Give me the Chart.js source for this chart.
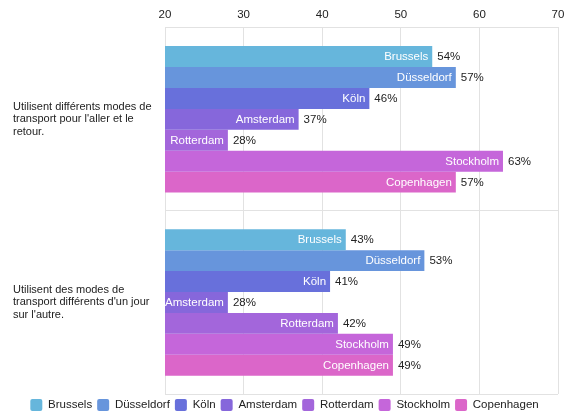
<!DOCTYPE html>
<html>
<head>
<meta charset="utf-8">
<script src="https://cdn.jsdelivr.net/npm/chart.js@4"></script>
<style>
  body { margin: 0; background: #fff; }
</style>
</head>
<body>
<canvas id="graphique" width="569" height="414"></canvas>
<script>
// Données
const categories = [
  ['Utilisent différents modes de', "transport pour l'aller et le", 'retour.'],
  ['Utilisent des modes de', "transport différents d'un jour", "sur l'autre."]
];
const villes = ['Brussels', 'Düsseldorf', 'Köln', 'Amsterdam', 'Rotterdam', 'Stockholm', 'Copenhagen'];
const allerRetour = [54, 57, 46, 37, 28, 63, 57];
const jourAJour = [43, 53, 41, 28, 42, 49, 49];
const graduations = [20, 30, 40, 50, 60, 70];

const couleurs = ['#66b6dc', '#6795dc', '#6870db', '#8667db', '#a366db', '#c566da', '#db66c9'];

const police = 'Arial, "Liberation Sans", sans-serif';

// Étiquettes dans les barres (ville) et à côté (pourcentage)
const etiquettesBarres = {
  id: 'etiquettesBarres',
  afterLayout(chart) {
    // légende centrée sur toute la largeur du canvas
    chart.legend.left = 0;
  },
  afterDatasetsDraw(chart) {
    const ctx = chart.ctx;
    const zone = chart.chartArea;
    ctx.save();
    ctx.font = '11.5px ' + police;
    ctx.textBaseline = 'middle';
    chart.data.datasets.forEach((ds, i) => {
      const meta = chart.getDatasetMeta(i);
      meta.data.forEach((barre, j) => {
        // nom de la ville, en blanc, coupé au bord gauche
        ctx.save();
        ctx.beginPath();
        ctx.rect(zone.left, zone.top, zone.right - zone.left, zone.bottom - zone.top);
        ctx.clip();
        ctx.fillStyle = '#fff';
        ctx.textAlign = 'right';
        ctx.fillText(ds.label, barre.x - 4, barre.y + 0.5);
        ctx.restore();
        // valeur
        ctx.fillStyle = '#222';
        ctx.textAlign = 'left';
        ctx.fillText(ds.data[j] + '%', barre.x + 5, barre.y + 0.5);
      });
    });
    ctx.restore();
  }
};

const datasets = villes.map((ville, i) => ({
  label: ville,
  data: [allerRetour[i], jourAJour[i]],
  backgroundColor: couleurs[i],
  borderWidth: 0,
  categoryPercentage: 0.8,
  barPercentage: 1.0
}));

new Chart(document.getElementById('graphique'), {
  type: 'bar',
  data: { labels: categories, datasets: datasets },
  options: {
    responsive: false,
    animation: false,
    indexAxis: 'y',
    layout: { padding: { left: 13, right: 0, top: 2, bottom: -7 } },
    scales: {
      x: {
        position: 'top',
        min: graduations[0],
        max: graduations[graduations.length - 1],
        afterBuildTicks: (axe) => { axe.ticks = graduations.map(v => ({ value: v })); },
        afterFit: (axe) => { axe.paddingRight = 11; },
        grid: { color: '#e2e2e2', drawTicks: false },
        border: { color: '#e2e2e2' },
        ticks: { color: '#222', padding: 6, font: { family: police, size: 11.5 } }
      },
      y: {
        grid: { color: '#e2e2e2', drawTicks: false, offset: true },
        border: { color: '#e2e2e2' },
        ticks: {
          color: '#222',
          crossAlign: 'far',
          padding: 0,
          font: { family: police, size: 11, lineHeight: 1.15 }
        },
        afterFit: (axe) => { axe.width = 152; }
      }
    },
    plugins: {
      tooltip: { enabled: false },
      legend: {
        position: 'bottom',
        labels: {
          color: '#222',
          boxWidth: 12,
          boxHeight: 12,
          padding: 5,
          useBorderRadius: true,
          borderRadius: 2,
          font: { family: police, size: 11.5 }
        }
      }
    }
  },
  plugins: [etiquettesBarres]
});
</script>
</body>
</html>
